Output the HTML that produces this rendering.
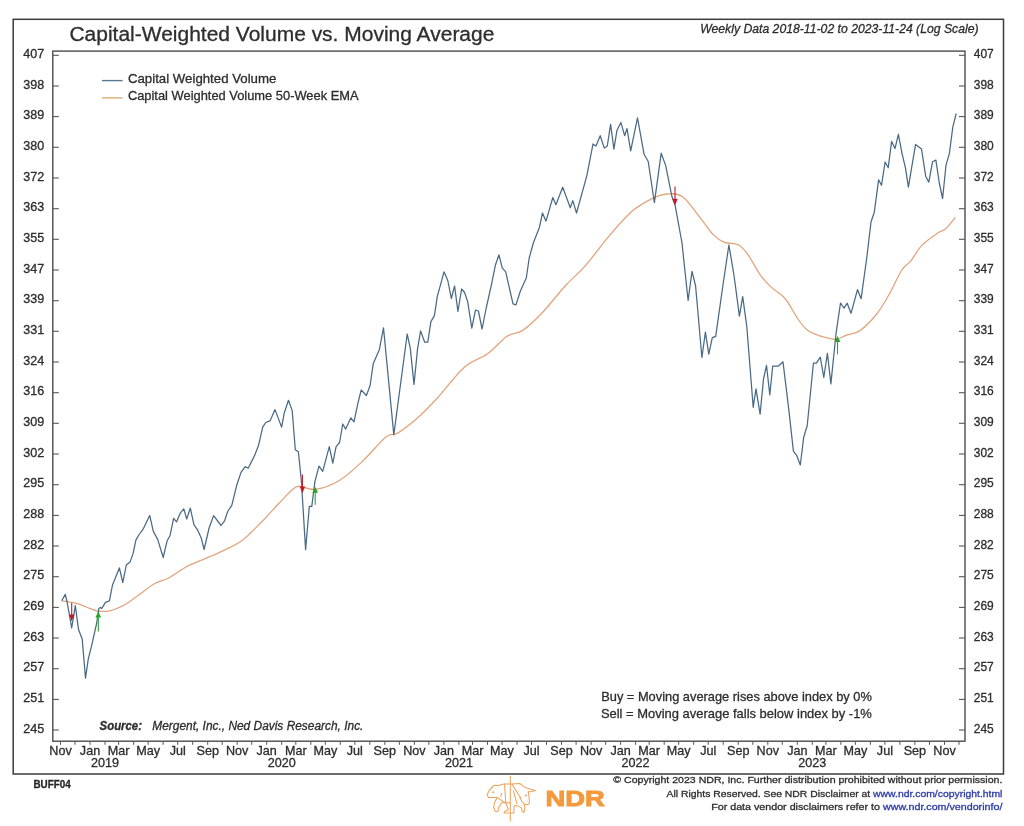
<!DOCTYPE html>
<html><head><meta charset="utf-8"><style>
html,body{margin:0;padding:0;background:#fff;width:1024px;height:826px;overflow:hidden}
svg{display:block;will-change:transform}
text{font-family:"Liberation Sans", sans-serif;fill:#2d2d2d;stroke:#2d2d2d;stroke-width:0.3px}
</style></head><body>
<svg width="1024" height="826" viewBox="0 0 1024 826">
<rect x="13.2" y="19.3" width="990.3" height="754.7" fill="none" stroke="#3c3c3c" stroke-width="1.5"/>
<rect x="52.8" y="51.1" width="912.2" height="690.1" fill="none" stroke="#4c4c4c" stroke-width="1.4"/>
<line x1="52.8" y1="55.3" x2="58.8" y2="55.3" stroke="#555" stroke-width="1.1"/>
<line x1="959" y1="55.3" x2="965" y2="55.3" stroke="#555" stroke-width="1.1"/>
<text x="44.2" y="57.8" text-anchor="end" font-size="12.3" textLength="21" lengthAdjust="spacingAndGlyphs">407</text>
<text x="973.8" y="57.8" font-size="12.3" textLength="20" lengthAdjust="spacingAndGlyphs">407</text>
<line x1="52.8" y1="86.0" x2="58.8" y2="86.0" stroke="#555" stroke-width="1.1"/>
<line x1="959" y1="86.0" x2="965" y2="86.0" stroke="#555" stroke-width="1.1"/>
<text x="44.2" y="88.5" text-anchor="end" font-size="12.3" textLength="21" lengthAdjust="spacingAndGlyphs">398</text>
<text x="973.8" y="88.5" font-size="12.3" textLength="20" lengthAdjust="spacingAndGlyphs">398</text>
<line x1="52.8" y1="116.6" x2="58.8" y2="116.6" stroke="#555" stroke-width="1.1"/>
<line x1="959" y1="116.6" x2="965" y2="116.6" stroke="#555" stroke-width="1.1"/>
<text x="44.2" y="119.1" text-anchor="end" font-size="12.3" textLength="21" lengthAdjust="spacingAndGlyphs">389</text>
<text x="973.8" y="119.1" font-size="12.3" textLength="20" lengthAdjust="spacingAndGlyphs">389</text>
<line x1="52.8" y1="147.3" x2="58.8" y2="147.3" stroke="#555" stroke-width="1.1"/>
<line x1="959" y1="147.3" x2="965" y2="147.3" stroke="#555" stroke-width="1.1"/>
<text x="44.2" y="149.8" text-anchor="end" font-size="12.3" textLength="21" lengthAdjust="spacingAndGlyphs">380</text>
<text x="973.8" y="149.8" font-size="12.3" textLength="20" lengthAdjust="spacingAndGlyphs">380</text>
<line x1="52.8" y1="178.0" x2="58.8" y2="178.0" stroke="#555" stroke-width="1.1"/>
<line x1="959" y1="178.0" x2="965" y2="178.0" stroke="#555" stroke-width="1.1"/>
<text x="44.2" y="180.5" text-anchor="end" font-size="12.3" textLength="21" lengthAdjust="spacingAndGlyphs">372</text>
<text x="973.8" y="180.5" font-size="12.3" textLength="20" lengthAdjust="spacingAndGlyphs">372</text>
<line x1="52.8" y1="208.7" x2="58.8" y2="208.7" stroke="#555" stroke-width="1.1"/>
<line x1="959" y1="208.7" x2="965" y2="208.7" stroke="#555" stroke-width="1.1"/>
<text x="44.2" y="211.2" text-anchor="end" font-size="12.3" textLength="21" lengthAdjust="spacingAndGlyphs">363</text>
<text x="973.8" y="211.2" font-size="12.3" textLength="20" lengthAdjust="spacingAndGlyphs">363</text>
<line x1="52.8" y1="239.3" x2="58.8" y2="239.3" stroke="#555" stroke-width="1.1"/>
<line x1="959" y1="239.3" x2="965" y2="239.3" stroke="#555" stroke-width="1.1"/>
<text x="44.2" y="241.8" text-anchor="end" font-size="12.3" textLength="21" lengthAdjust="spacingAndGlyphs">355</text>
<text x="973.8" y="241.8" font-size="12.3" textLength="20" lengthAdjust="spacingAndGlyphs">355</text>
<line x1="52.8" y1="270.0" x2="58.8" y2="270.0" stroke="#555" stroke-width="1.1"/>
<line x1="959" y1="270.0" x2="965" y2="270.0" stroke="#555" stroke-width="1.1"/>
<text x="44.2" y="272.5" text-anchor="end" font-size="12.3" textLength="21" lengthAdjust="spacingAndGlyphs">347</text>
<text x="973.8" y="272.5" font-size="12.3" textLength="20" lengthAdjust="spacingAndGlyphs">347</text>
<line x1="52.8" y1="300.7" x2="58.8" y2="300.7" stroke="#555" stroke-width="1.1"/>
<line x1="959" y1="300.7" x2="965" y2="300.7" stroke="#555" stroke-width="1.1"/>
<text x="44.2" y="303.2" text-anchor="end" font-size="12.3" textLength="21" lengthAdjust="spacingAndGlyphs">339</text>
<text x="973.8" y="303.2" font-size="12.3" textLength="20" lengthAdjust="spacingAndGlyphs">339</text>
<line x1="52.8" y1="331.3" x2="58.8" y2="331.3" stroke="#555" stroke-width="1.1"/>
<line x1="959" y1="331.3" x2="965" y2="331.3" stroke="#555" stroke-width="1.1"/>
<text x="44.2" y="333.8" text-anchor="end" font-size="12.3" textLength="21" lengthAdjust="spacingAndGlyphs">331</text>
<text x="973.8" y="333.8" font-size="12.3" textLength="20" lengthAdjust="spacingAndGlyphs">331</text>
<line x1="52.8" y1="362.0" x2="58.8" y2="362.0" stroke="#555" stroke-width="1.1"/>
<line x1="959" y1="362.0" x2="965" y2="362.0" stroke="#555" stroke-width="1.1"/>
<text x="44.2" y="364.5" text-anchor="end" font-size="12.3" textLength="21" lengthAdjust="spacingAndGlyphs">324</text>
<text x="973.8" y="364.5" font-size="12.3" textLength="20" lengthAdjust="spacingAndGlyphs">324</text>
<line x1="52.8" y1="392.7" x2="58.8" y2="392.7" stroke="#555" stroke-width="1.1"/>
<line x1="959" y1="392.7" x2="965" y2="392.7" stroke="#555" stroke-width="1.1"/>
<text x="44.2" y="395.2" text-anchor="end" font-size="12.3" textLength="21" lengthAdjust="spacingAndGlyphs">316</text>
<text x="973.8" y="395.2" font-size="12.3" textLength="20" lengthAdjust="spacingAndGlyphs">316</text>
<line x1="52.8" y1="423.3" x2="58.8" y2="423.3" stroke="#555" stroke-width="1.1"/>
<line x1="959" y1="423.3" x2="965" y2="423.3" stroke="#555" stroke-width="1.1"/>
<text x="44.2" y="425.8" text-anchor="end" font-size="12.3" textLength="21" lengthAdjust="spacingAndGlyphs">309</text>
<text x="973.8" y="425.8" font-size="12.3" textLength="20" lengthAdjust="spacingAndGlyphs">309</text>
<line x1="52.8" y1="454.0" x2="58.8" y2="454.0" stroke="#555" stroke-width="1.1"/>
<line x1="959" y1="454.0" x2="965" y2="454.0" stroke="#555" stroke-width="1.1"/>
<text x="44.2" y="456.5" text-anchor="end" font-size="12.3" textLength="21" lengthAdjust="spacingAndGlyphs">302</text>
<text x="973.8" y="456.5" font-size="12.3" textLength="20" lengthAdjust="spacingAndGlyphs">302</text>
<line x1="52.8" y1="484.7" x2="58.8" y2="484.7" stroke="#555" stroke-width="1.1"/>
<line x1="959" y1="484.7" x2="965" y2="484.7" stroke="#555" stroke-width="1.1"/>
<text x="44.2" y="487.2" text-anchor="end" font-size="12.3" textLength="21" lengthAdjust="spacingAndGlyphs">295</text>
<text x="973.8" y="487.2" font-size="12.3" textLength="20" lengthAdjust="spacingAndGlyphs">295</text>
<line x1="52.8" y1="515.4" x2="58.8" y2="515.4" stroke="#555" stroke-width="1.1"/>
<line x1="959" y1="515.4" x2="965" y2="515.4" stroke="#555" stroke-width="1.1"/>
<text x="44.2" y="517.9" text-anchor="end" font-size="12.3" textLength="21" lengthAdjust="spacingAndGlyphs">288</text>
<text x="973.8" y="517.9" font-size="12.3" textLength="20" lengthAdjust="spacingAndGlyphs">288</text>
<line x1="52.8" y1="546.0" x2="58.8" y2="546.0" stroke="#555" stroke-width="1.1"/>
<line x1="959" y1="546.0" x2="965" y2="546.0" stroke="#555" stroke-width="1.1"/>
<text x="44.2" y="548.5" text-anchor="end" font-size="12.3" textLength="21" lengthAdjust="spacingAndGlyphs">282</text>
<text x="973.8" y="548.5" font-size="12.3" textLength="20" lengthAdjust="spacingAndGlyphs">282</text>
<line x1="52.8" y1="576.7" x2="58.8" y2="576.7" stroke="#555" stroke-width="1.1"/>
<line x1="959" y1="576.7" x2="965" y2="576.7" stroke="#555" stroke-width="1.1"/>
<text x="44.2" y="579.2" text-anchor="end" font-size="12.3" textLength="21" lengthAdjust="spacingAndGlyphs">275</text>
<text x="973.8" y="579.2" font-size="12.3" textLength="20" lengthAdjust="spacingAndGlyphs">275</text>
<line x1="52.8" y1="607.4" x2="58.8" y2="607.4" stroke="#555" stroke-width="1.1"/>
<line x1="959" y1="607.4" x2="965" y2="607.4" stroke="#555" stroke-width="1.1"/>
<text x="44.2" y="609.9" text-anchor="end" font-size="12.3" textLength="21" lengthAdjust="spacingAndGlyphs">269</text>
<text x="973.8" y="609.9" font-size="12.3" textLength="20" lengthAdjust="spacingAndGlyphs">269</text>
<line x1="52.8" y1="638.0" x2="58.8" y2="638.0" stroke="#555" stroke-width="1.1"/>
<line x1="959" y1="638.0" x2="965" y2="638.0" stroke="#555" stroke-width="1.1"/>
<text x="44.2" y="640.5" text-anchor="end" font-size="12.3" textLength="21" lengthAdjust="spacingAndGlyphs">263</text>
<text x="973.8" y="640.5" font-size="12.3" textLength="20" lengthAdjust="spacingAndGlyphs">263</text>
<line x1="52.8" y1="668.7" x2="58.8" y2="668.7" stroke="#555" stroke-width="1.1"/>
<line x1="959" y1="668.7" x2="965" y2="668.7" stroke="#555" stroke-width="1.1"/>
<text x="44.2" y="671.2" text-anchor="end" font-size="12.3" textLength="21" lengthAdjust="spacingAndGlyphs">257</text>
<text x="973.8" y="671.2" font-size="12.3" textLength="20" lengthAdjust="spacingAndGlyphs">257</text>
<line x1="52.8" y1="699.4" x2="58.8" y2="699.4" stroke="#555" stroke-width="1.1"/>
<line x1="959" y1="699.4" x2="965" y2="699.4" stroke="#555" stroke-width="1.1"/>
<text x="44.2" y="701.9" text-anchor="end" font-size="12.3" textLength="21" lengthAdjust="spacingAndGlyphs">251</text>
<text x="973.8" y="701.9" font-size="12.3" textLength="20" lengthAdjust="spacingAndGlyphs">251</text>
<line x1="52.8" y1="730.0" x2="58.8" y2="730.0" stroke="#555" stroke-width="1.1"/>
<line x1="959" y1="730.0" x2="965" y2="730.0" stroke="#555" stroke-width="1.1"/>
<text x="44.2" y="732.5" text-anchor="end" font-size="12.3" textLength="21" lengthAdjust="spacingAndGlyphs">245</text>
<text x="973.8" y="732.5" font-size="12.3" textLength="20" lengthAdjust="spacingAndGlyphs">245</text>
<line x1="60.5" y1="741.2" x2="60.5" y2="744.8" stroke="#555" stroke-width="1.0"/>
<text x="60.5" y="754.5" text-anchor="middle" font-size="12.6">Nov</text>
<line x1="75.0" y1="741.2" x2="75.0" y2="744.8" stroke="#555" stroke-width="1.0"/>
<line x1="90.0" y1="741.2" x2="90.0" y2="744.8" stroke="#555" stroke-width="1.0"/>
<text x="90.0" y="754.5" text-anchor="middle" font-size="12.6">Jan</text>
<line x1="105.0" y1="741.2" x2="105.0" y2="744.8" stroke="#555" stroke-width="1.0"/>
<text x="105.0" y="767" text-anchor="middle" font-size="12.6">2019</text>
<line x1="118.6" y1="741.2" x2="118.6" y2="744.8" stroke="#555" stroke-width="1.0"/>
<text x="118.6" y="754.5" text-anchor="middle" font-size="12.6">Mar</text>
<line x1="133.6" y1="741.2" x2="133.6" y2="744.8" stroke="#555" stroke-width="1.0"/>
<line x1="148.1" y1="741.2" x2="148.1" y2="744.8" stroke="#555" stroke-width="1.0"/>
<text x="148.1" y="754.5" text-anchor="middle" font-size="12.6">May</text>
<line x1="163.1" y1="741.2" x2="163.1" y2="744.8" stroke="#555" stroke-width="1.0"/>
<line x1="177.7" y1="741.2" x2="177.7" y2="744.8" stroke="#555" stroke-width="1.0"/>
<text x="177.7" y="754.5" text-anchor="middle" font-size="12.6">Jul</text>
<line x1="192.7" y1="741.2" x2="192.7" y2="744.8" stroke="#555" stroke-width="1.0"/>
<line x1="207.7" y1="741.2" x2="207.7" y2="744.8" stroke="#555" stroke-width="1.0"/>
<text x="207.7" y="754.5" text-anchor="middle" font-size="12.6">Sep</text>
<line x1="222.2" y1="741.2" x2="222.2" y2="744.8" stroke="#555" stroke-width="1.0"/>
<line x1="237.2" y1="741.2" x2="237.2" y2="744.8" stroke="#555" stroke-width="1.0"/>
<text x="237.2" y="754.5" text-anchor="middle" font-size="12.6">Nov</text>
<line x1="251.7" y1="741.2" x2="251.7" y2="744.8" stroke="#555" stroke-width="1.0"/>
<line x1="266.7" y1="741.2" x2="266.7" y2="744.8" stroke="#555" stroke-width="1.0"/>
<text x="266.7" y="754.5" text-anchor="middle" font-size="12.6">Jan</text>
<line x1="281.7" y1="741.2" x2="281.7" y2="744.8" stroke="#555" stroke-width="1.0"/>
<text x="281.7" y="767" text-anchor="middle" font-size="12.6">2020</text>
<line x1="295.8" y1="741.2" x2="295.8" y2="744.8" stroke="#555" stroke-width="1.0"/>
<text x="295.8" y="754.5" text-anchor="middle" font-size="12.6">Mar</text>
<line x1="310.8" y1="741.2" x2="310.8" y2="744.8" stroke="#555" stroke-width="1.0"/>
<line x1="325.3" y1="741.2" x2="325.3" y2="744.8" stroke="#555" stroke-width="1.0"/>
<text x="325.3" y="754.5" text-anchor="middle" font-size="12.6">May</text>
<line x1="340.3" y1="741.2" x2="340.3" y2="744.8" stroke="#555" stroke-width="1.0"/>
<line x1="354.8" y1="741.2" x2="354.8" y2="744.8" stroke="#555" stroke-width="1.0"/>
<text x="354.8" y="754.5" text-anchor="middle" font-size="12.6">Jul</text>
<line x1="369.8" y1="741.2" x2="369.8" y2="744.8" stroke="#555" stroke-width="1.0"/>
<line x1="384.8" y1="741.2" x2="384.8" y2="744.8" stroke="#555" stroke-width="1.0"/>
<text x="384.8" y="754.5" text-anchor="middle" font-size="12.6">Sep</text>
<line x1="399.4" y1="741.2" x2="399.4" y2="744.8" stroke="#555" stroke-width="1.0"/>
<line x1="414.4" y1="741.2" x2="414.4" y2="744.8" stroke="#555" stroke-width="1.0"/>
<text x="414.4" y="754.5" text-anchor="middle" font-size="12.6">Nov</text>
<line x1="428.9" y1="741.2" x2="428.9" y2="744.8" stroke="#555" stroke-width="1.0"/>
<line x1="443.9" y1="741.2" x2="443.9" y2="744.8" stroke="#555" stroke-width="1.0"/>
<text x="443.9" y="754.5" text-anchor="middle" font-size="12.6">Jan</text>
<line x1="458.9" y1="741.2" x2="458.9" y2="744.8" stroke="#555" stroke-width="1.0"/>
<text x="458.9" y="767" text-anchor="middle" font-size="12.6">2021</text>
<line x1="472.5" y1="741.2" x2="472.5" y2="744.8" stroke="#555" stroke-width="1.0"/>
<text x="472.5" y="754.5" text-anchor="middle" font-size="12.6">Mar</text>
<line x1="487.5" y1="741.2" x2="487.5" y2="744.8" stroke="#555" stroke-width="1.0"/>
<line x1="502.0" y1="741.2" x2="502.0" y2="744.8" stroke="#555" stroke-width="1.0"/>
<text x="502.0" y="754.5" text-anchor="middle" font-size="12.6">May</text>
<line x1="517.0" y1="741.2" x2="517.0" y2="744.8" stroke="#555" stroke-width="1.0"/>
<line x1="531.5" y1="741.2" x2="531.5" y2="744.8" stroke="#555" stroke-width="1.0"/>
<text x="531.5" y="754.5" text-anchor="middle" font-size="12.6">Jul</text>
<line x1="546.5" y1="741.2" x2="546.5" y2="744.8" stroke="#555" stroke-width="1.0"/>
<line x1="561.5" y1="741.2" x2="561.5" y2="744.8" stroke="#555" stroke-width="1.0"/>
<text x="561.5" y="754.5" text-anchor="middle" font-size="12.6">Sep</text>
<line x1="576.1" y1="741.2" x2="576.1" y2="744.8" stroke="#555" stroke-width="1.0"/>
<line x1="591.1" y1="741.2" x2="591.1" y2="744.8" stroke="#555" stroke-width="1.0"/>
<text x="591.1" y="754.5" text-anchor="middle" font-size="12.6">Nov</text>
<line x1="605.6" y1="741.2" x2="605.6" y2="744.8" stroke="#555" stroke-width="1.0"/>
<line x1="620.6" y1="741.2" x2="620.6" y2="744.8" stroke="#555" stroke-width="1.0"/>
<text x="620.6" y="754.5" text-anchor="middle" font-size="12.6">Jan</text>
<line x1="635.6" y1="741.2" x2="635.6" y2="744.8" stroke="#555" stroke-width="1.0"/>
<text x="635.6" y="767" text-anchor="middle" font-size="12.6">2022</text>
<line x1="649.2" y1="741.2" x2="649.2" y2="744.8" stroke="#555" stroke-width="1.0"/>
<text x="649.2" y="754.5" text-anchor="middle" font-size="12.6">Mar</text>
<line x1="664.2" y1="741.2" x2="664.2" y2="744.8" stroke="#555" stroke-width="1.0"/>
<line x1="678.7" y1="741.2" x2="678.7" y2="744.8" stroke="#555" stroke-width="1.0"/>
<text x="678.7" y="754.5" text-anchor="middle" font-size="12.6">May</text>
<line x1="693.7" y1="741.2" x2="693.7" y2="744.8" stroke="#555" stroke-width="1.0"/>
<line x1="708.2" y1="741.2" x2="708.2" y2="744.8" stroke="#555" stroke-width="1.0"/>
<text x="708.2" y="754.5" text-anchor="middle" font-size="12.6">Jul</text>
<line x1="723.2" y1="741.2" x2="723.2" y2="744.8" stroke="#555" stroke-width="1.0"/>
<line x1="738.2" y1="741.2" x2="738.2" y2="744.8" stroke="#555" stroke-width="1.0"/>
<text x="738.2" y="754.5" text-anchor="middle" font-size="12.6">Sep</text>
<line x1="752.8" y1="741.2" x2="752.8" y2="744.8" stroke="#555" stroke-width="1.0"/>
<line x1="767.8" y1="741.2" x2="767.8" y2="744.8" stroke="#555" stroke-width="1.0"/>
<text x="767.8" y="754.5" text-anchor="middle" font-size="12.6">Nov</text>
<line x1="782.3" y1="741.2" x2="782.3" y2="744.8" stroke="#555" stroke-width="1.0"/>
<line x1="797.3" y1="741.2" x2="797.3" y2="744.8" stroke="#555" stroke-width="1.0"/>
<text x="797.3" y="754.5" text-anchor="middle" font-size="12.6">Jan</text>
<line x1="812.3" y1="741.2" x2="812.3" y2="744.8" stroke="#555" stroke-width="1.0"/>
<text x="812.3" y="767" text-anchor="middle" font-size="12.6">2023</text>
<line x1="825.9" y1="741.2" x2="825.9" y2="744.8" stroke="#555" stroke-width="1.0"/>
<text x="825.9" y="754.5" text-anchor="middle" font-size="12.6">Mar</text>
<line x1="840.9" y1="741.2" x2="840.9" y2="744.8" stroke="#555" stroke-width="1.0"/>
<line x1="855.4" y1="741.2" x2="855.4" y2="744.8" stroke="#555" stroke-width="1.0"/>
<text x="855.4" y="754.5" text-anchor="middle" font-size="12.6">May</text>
<line x1="870.4" y1="741.2" x2="870.4" y2="744.8" stroke="#555" stroke-width="1.0"/>
<line x1="884.9" y1="741.2" x2="884.9" y2="744.8" stroke="#555" stroke-width="1.0"/>
<text x="884.9" y="754.5" text-anchor="middle" font-size="12.6">Jul</text>
<line x1="899.9" y1="741.2" x2="899.9" y2="744.8" stroke="#555" stroke-width="1.0"/>
<line x1="914.9" y1="741.2" x2="914.9" y2="744.8" stroke="#555" stroke-width="1.0"/>
<text x="914.9" y="754.5" text-anchor="middle" font-size="12.6">Sep</text>
<line x1="929.5" y1="741.2" x2="929.5" y2="744.8" stroke="#555" stroke-width="1.0"/>
<line x1="944.5" y1="741.2" x2="944.5" y2="744.8" stroke="#555" stroke-width="1.0"/>
<text x="944.5" y="754.5" text-anchor="middle" font-size="12.6">Nov</text>
<line x1="959.0" y1="741.2" x2="959.0" y2="744.8" stroke="#555" stroke-width="1.0"/>
<text x="69.4" y="41.2" font-size="20" textLength="425" lengthAdjust="spacingAndGlyphs" style="fill:#2e2e2e">Capital-Weighted Volume vs. Moving Average</text>
<text x="700.2" y="33" font-size="13" font-style="italic" textLength="278.4" lengthAdjust="spacingAndGlyphs">Weekly Data 2018-11-02 to 2023-11-24 (Log Scale)</text>
<line x1="102" y1="80.6" x2="122.6" y2="80.6" stroke="#58788f" stroke-width="1.4"/>
<line x1="102" y1="97.9" x2="122.6" y2="97.9" stroke="#dcb184" stroke-width="1.5"/>
<text x="127.9" y="82.6" font-size="12.9" textLength="148.5" lengthAdjust="spacingAndGlyphs">Capital Weighted Volume</text>
<text x="127.9" y="99.9" font-size="12.9" textLength="230.7" lengthAdjust="spacingAndGlyphs">Capital Weighted Volume 50-Week EMA</text>
<text x="99.6" y="729.8" font-size="12.5" font-style="italic" font-weight="bold" textLength="42.4" lengthAdjust="spacingAndGlyphs">Source:</text>
<text x="152.3" y="729.8" font-size="12.5" font-style="italic" textLength="211.1" lengthAdjust="spacingAndGlyphs">Mergent, Inc., Ned Davis Research, Inc.</text>
<text x="601.2" y="700.5" font-size="13.4" textLength="270.7" lengthAdjust="spacingAndGlyphs">Buy = Moving average rises above index by 0%</text>
<text x="600.9" y="718.4" font-size="13.4" textLength="271" lengthAdjust="spacingAndGlyphs">Sell = Moving average falls below index by -1%</text>
<text x="33.5" y="787.8" font-size="10.4" font-weight="bold" textLength="37.2" lengthAdjust="spacingAndGlyphs" style="fill:#222">BUFF04</text>
<text x="613.3" y="783.2" font-size="9.8" textLength="389.1" lengthAdjust="spacingAndGlyphs">© Copyright 2023 NDR, Inc. Further distribution prohibited without prior permission.</text>
<text x="666.5" y="796.6" font-size="9.8" textLength="335.9" lengthAdjust="spacingAndGlyphs">All Rights Reserved. See NDR Disclaimer at <tspan style="fill:#2b3aa8;stroke:#2b3aa8">www.ndr.com/copyright.html</tspan></text>
<text x="711.2" y="810.2" font-size="9.8" textLength="291.2" lengthAdjust="spacingAndGlyphs">For data vendor disclaimers refer to <tspan style="fill:#2b3aa8;stroke:#2b3aa8">www.ndr.com/vendorinfo/</tspan></text>
<text x="545.4" y="806.3" font-size="21.5" font-weight="bold" style="fill:#f39a3c;stroke:#f39a3c;stroke-width:0.9px" textLength="59.4" lengthAdjust="spacingAndGlyphs">NDR</text>
<g fill="none" stroke="#eea45c" stroke-width="1.05" stroke-linejoin="round" stroke-linecap="round">
<line x1="510.3" y1="776" x2="510.3" y2="821"/>
<path d="M487.1,794.8 C488,792 490.5,788.5 492.7,786.5 L494.9,785.2 L498,785.7 L501.4,784.4 L504.5,784.1 L512,784 L519.8,783.5 L524.4,787.2 L529.9,789 L535.4,790.4 L530.8,791.8 L528.1,791.8 L529,796.4 L529.5,802.8 L527.6,804.7 L524.4,804.2 L524.9,807.9 L523.9,812.5 L522.1,811.1 L521.6,807.9 L517,805.6 L514,806 L513.8,813 L504.1,813.1 L504.5,811.4 L508.4,809.7 L505.8,802.7 L501.4,802.7 L498.4,807.9 L498,811.4 L495.3,811.4 L493.6,807 L494.5,802.7 L497.1,797.4 L488.4,797.4 Z"/>
<path d="M504.5,784.1 L505.8,802.7 M497.1,797.4 L504.9,802.7 L510.2,802.7 M512,784.4 L520.7,797.8 M513.4,790.9 L517,803.8 M519.8,797.3 Q521,801 524.4,804.2 M501.4,793.5 Q501.5,795.5 500.6,796.1"/>
<circle cx="493.2" cy="792.2" r="0.5" fill="#eea45c"/>
<circle cx="525.8" cy="795.5" r="0.5" fill="#eea45c"/>
</g>
<path d="M61.8,600.8 C64.2,601.2 72.3,602.3 76.4,603.3 C80.5,604.3 82.5,605.7 86.2,607.0 C89.9,608.3 94.3,610.5 98.4,611.1 C102.5,611.7 106.1,611.7 110.6,610.6 C115.1,609.5 120.7,606.9 125.2,604.5 C129.7,602.1 132.5,599.5 137.4,596.0 C142.3,592.5 149.2,586.8 154.5,583.8 C159.8,580.8 163.9,580.6 169.2,577.7 C174.5,574.9 180.6,569.8 186.3,566.7 C192.0,563.6 197.3,561.9 203.4,559.3 C209.5,556.6 216.4,554.0 222.9,550.8 C229.4,547.6 235.9,545.1 242.4,540.2 C248.9,535.3 255.9,527.7 262.0,521.5 C268.1,515.3 273.7,508.7 279.0,503.2 C284.3,497.7 290.2,491.3 293.7,488.5 C297.2,485.7 296.4,486.4 300.0,486.5 C303.6,486.6 309.1,490.3 315.6,489.4 C322.1,488.4 331.2,485.5 339.0,480.8 C346.8,476.1 354.7,468.6 362.5,461.3 C370.3,454.0 380.0,441.7 385.9,437.0 C391.8,432.3 392.5,436.2 397.7,433.1 C402.9,430.0 410.7,424.0 417.2,418.3 C423.7,412.6 428.9,407.3 436.7,398.8 C444.5,390.3 455.6,375.0 464.1,367.5 C472.6,360.0 480.4,359.0 487.5,353.8 C494.6,348.6 501.1,340.2 507.0,336.3 C512.9,332.4 516.8,334.3 522.7,330.4 C528.6,326.5 535.1,320.3 542.2,312.8 C549.4,305.3 558.4,293.3 565.6,285.5 C572.8,277.7 578.0,274.0 585.2,265.9 C592.4,257.8 600.8,245.7 608.6,236.6 C616.4,227.5 624.8,217.6 632.0,211.3 C639.2,205.0 645.7,201.7 651.6,198.8 C657.5,195.9 662.0,194.3 667.2,194.0 C672.4,193.7 677.1,192.8 682.8,197.0 C688.5,201.2 696.4,213.2 701.4,219.4 C706.4,225.6 709.1,230.6 712.9,234.4 C716.7,238.2 720.2,240.7 724.4,242.4 C728.6,244.1 734.3,242.6 738.2,244.7 C742.1,246.8 744.4,249.7 748.0,254.7 C751.6,259.7 756.2,269.3 760.0,274.6 C763.8,279.9 766.8,283.0 770.6,286.6 C774.4,290.2 779.7,293.3 782.6,296.0 C785.5,298.7 785.3,298.6 788.0,302.6 C790.7,306.6 795.3,315.3 798.6,320.0 C801.9,324.7 804.4,328.0 807.9,330.6 C811.4,333.2 815.7,334.5 819.9,335.9 C824.1,337.3 830.3,338.6 833.2,339.2 C836.1,339.8 835.0,339.9 837.2,339.2 C839.4,338.5 842.8,336.6 846.6,335.2 C850.4,333.8 855.0,334.1 860.0,330.6 C865.0,327.2 871.4,320.5 876.3,314.5 C881.1,308.5 884.9,301.9 889.1,294.5 C893.4,287.1 898.2,275.6 901.8,270.0 C905.4,264.4 907.6,265.0 910.9,260.9 C914.2,256.8 917.3,250.1 921.8,245.4 C926.3,240.7 934.2,235.4 938.1,232.7 C942.0,230.0 942.5,231.7 945.4,229.1 C948.3,226.5 953.7,219.3 955.4,217.3" fill="none" stroke="#e2a47c" stroke-width="1.3"/>
<polyline points="61.7,600.7 65.3,594.4 67.1,602.0 71.7,628.0 75.3,605.6 78.6,629.8 82.2,638.9 85.5,678.2 88.3,658.8 92.5,641.9 96.8,622.5 98.8,608.6 100.4,607.4 101.6,608.6 105.5,602.3 109.4,600.8 112.5,585.0 119.4,567.9 122.8,582.6 126.3,565.0 130.1,561.9 133.0,553.9 135.9,540.1 138.8,535.0 143.1,529.2 149.7,515.4 153.3,531.4 157.7,539.4 163.2,557.5 167.1,540.8 170.0,535.7 173.6,518.3 176.5,521.9 180.2,513.2 183.8,508.9 186.7,519.0 190.3,508.1 194.0,524.8 197.6,529.9 201.2,537.9 204.1,549.5 209.1,528.0 213.6,515.6 221.1,525.5 224.6,520.8 227.7,511.5 231.8,505.3 236.9,484.7 241.0,472.4 245.2,466.6 248.2,468.3 254.4,455.9 258.5,445.6 262.7,427.1 265.7,422.5 269.9,420.9 271.9,416.8 275.0,409.6 281.6,427.1 284.3,412.7 288.5,400.3 292.2,410.6 295.3,449.7 298.4,451.8 301.5,482.7 305.6,549.6 309.3,506.4 311.8,506.4 314.9,481.6 319.0,466.2 322.7,471.3 329.3,446.6 332.8,463.1 336.1,446.6 339.6,442.5 342.7,424.0 345.7,429.1 350.9,417.8 354.0,421.9 358.1,402.4 361.2,390.0 366.4,395.5 370.1,385.5 373.2,363.8 379.4,349.4 383.5,327.8 393.8,434.9 407.2,334.0 410.3,348.4 414.0,384.4 417.5,349.4 420.6,330.9 424.7,342.2 427.8,342.2 430.9,321.6 434.4,315.6 437.4,295.8 439.6,288.1 444.0,271.8 447.8,280.5 451.3,298.5 454.6,286.0 457.9,311.5 461.6,289.0 464.6,292.5 467.7,301.8 471.8,328.1 475.5,310.0 478.4,311.0 482.1,329.0 486.2,308.0 491.3,285.3 495.5,264.7 499.0,254.8 502.2,267.8 505.7,271.9 508.8,285.3 513.0,303.8 516.0,304.9 520.2,291.5 524.3,282.2 526.3,278.0 529.2,258.0 533.3,243.0 539.4,227.4 542.5,213.0 546.0,221.2 552.8,197.5 555.9,204.7 562.7,187.2 570.3,207.8 572.8,200.6 576.5,213.0 586.8,175.9 593.0,144.0 596.0,146.0 600.2,135.7 604.3,148.1 607.3,146.0 610.6,124.4 613.9,149.1 616.9,130.6 620.9,122.4 624.6,135.7 627.0,128.5 630.7,150.8 637.5,117.8 644.1,154.3 648.2,161.5 654.4,202.7 661.2,153.2 665.7,165.6 671.9,196.5 675.0,204.7 682.0,243.0 688.1,300.5 692.0,271.3 695.6,286.0 701.9,357.5 705.4,332.2 708.8,354.2 712.3,337.6 715.7,336.3 722.6,287.5 728.9,245.0 734.1,276.0 739.4,316.2 742.7,296.7 746.8,326.7 753.2,407.3 756.0,388.8 760.1,414.2 763.5,379.0 766.5,365.3 769.8,394.9 772.7,366.0 778.4,366.0 783.0,361.8 788.8,409.7 793.4,451.1 796.8,455.7 800.3,465.0 803.7,437.3 807.2,425.8 813.4,363.2 816.4,363.2 820.3,357.2 823.8,377.5 827.4,353.3 830.9,383.9 836.0,333.7 840.5,303.0 844.0,308.2 847.2,303.2 851.0,313.3 857.5,289.7 861.1,298.7 866.8,257.5 871.0,222.0 874.3,212.2 878.6,179.8 881.5,185.3 885.1,162.0 888.2,167.8 891.6,141.4 895.0,148.5 898.4,134.4 902.0,153.3 905.4,167.7 908.4,187.2 912.2,164.3 915.6,144.4 921.5,149.1 925.7,176.2 928.8,182.1 932.5,161.8 935.9,160.1 939.3,183.0 942.6,198.5 946.0,165.2 949.4,153.3 952.8,127.1 956.2,113.5" fill="none" stroke="#4a6a84" stroke-width="1.25" stroke-linejoin="round"/>
<line x1="71.7" y1="603" x2="71.7" y2="617.3" stroke="#c01a2a" stroke-width="1.1"/><path d="M69.0,614.5 L74.4,614.5 L71.7,621.3 Z" fill="#c01a2a"/>
<line x1="98.3" y1="631.6" x2="98.3" y2="615.6" stroke="#2aa52a" stroke-width="1.1"/><path d="M95.39999999999999,617.6 L101.2,617.6 L98.3,611.6 Z" fill="#2aa52a"/>
<line x1="302.4" y1="474.6" x2="302.4" y2="489.2" stroke="#c01a2a" stroke-width="1.1"/><path d="M299.7,486.4 L305.09999999999997,486.4 L302.4,493.2 Z" fill="#c01a2a"/>
<line x1="315.2" y1="504.8" x2="315.2" y2="490.7" stroke="#2aa52a" stroke-width="1.1"/><path d="M312.3,492.7 L318.09999999999997,492.7 L315.2,486.7 Z" fill="#2aa52a"/>
<line x1="675.0" y1="186.5" x2="675.0" y2="201.5" stroke="#c01a2a" stroke-width="1.1"/><path d="M672.3,198.7 L677.7,198.7 L675.0,205.5 Z" fill="#c01a2a"/>
<line x1="837.5" y1="354.3" x2="837.5" y2="340.0" stroke="#2aa52a" stroke-width="1.1"/><path d="M834.6,342.0 L840.4,342.0 L837.5,336.0 Z" fill="#2aa52a"/>
</svg>
</body></html>
